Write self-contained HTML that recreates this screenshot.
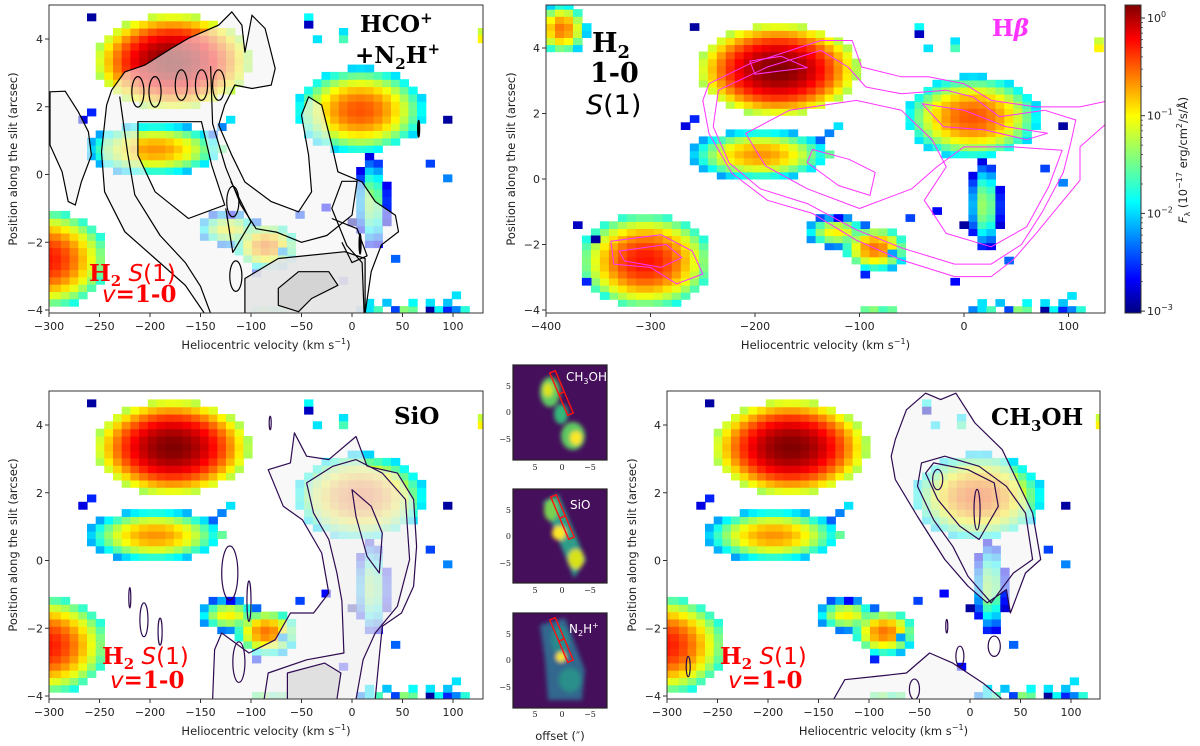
<!DOCTYPE html>
<html><head><meta charset="utf-8"><style>
html,body{margin:0;padding:0;background:#fff}
body{position:relative;width:1200px;height:746px;overflow:hidden}
svg{display:block}
.tk{font-size:11px;fill:#222;font-family:"DejaVu Sans","Liberation Sans",sans-serif}
.lab{font-size:11.5px;fill:#222;font-family:"DejaVu Sans","Liberation Sans",sans-serif}
.srf{font-family:"DejaVu Serif","Liberation Serif",serif;font-weight:bold}
.sns{font-family:"DejaVu Sans","Liberation Sans",sans-serif;font-weight:normal}
.tt{font-family:"DejaVu Serif","Liberation Serif",serif;font-size:8px;fill:#222}
</style></head><body>
<svg id="fig" width="1200" height="746" viewBox="0 0 1200 746" xmlns="http://www.w3.org/2000/svg">
<defs>
<filter id="bl" x="-50%" y="-50%" width="200%" height="200%"><feGaussianBlur stdDeviation="2.2"/></filter>
<linearGradient id="jet" x1="0" y1="1" x2="0" y2="0">
<stop offset="0" stop-color="#00007f"/><stop offset="0.11" stop-color="#0000ff"/><stop offset="0.36" stop-color="#00ffff"/><stop offset="0.5" stop-color="#7fff7f"/><stop offset="0.64" stop-color="#ffff00"/><stop offset="0.89" stop-color="#ff0000"/><stop offset="1" stop-color="#7f0000"/>
</linearGradient>
<clipPath id="c1"><rect x="49" y="5" width="434" height="308"/></clipPath>
<clipPath id="c2"><rect x="546" y="5" width="559" height="308"/></clipPath>
<clipPath id="c3"><rect x="49" y="391" width="434" height="308"/></clipPath>
<clipPath id="c4"><rect x="667" y="391" width="433" height="308"/></clipPath>
<clipPath id="t1"><rect x="513" y="365" width="94" height="95"/></clipPath>
<clipPath id="t2"><rect x="513" y="489" width="94" height="94"/></clipPath>
<clipPath id="t3"><rect x="513" y="613" width="94" height="95"/></clipPath>
</defs>
</svg>
<script>
// ---- H2 heatmap data (clumps: velocity centre, position centre, radius v, radius p, log10 peak) ----
const clumpV  = [-178, -305, -195, -122, -85,   8,   20, -385];
const clumpP  = [3.35, -2.5, 0.75, -1.6, -2.1,  1.9, -0.8,  4.6];
const clumpRV = [  76,   64,  68,   32,  32,   64,   16,   25];
const clumpRP = [ 1.4, 1.45, 0.78, 0.5, 0.7,  1.25,  1.4,  0.8];
const clumpPk = [0.15, -0.3, -0.7, -1.0, -0.6, -0.5, -1.3, -0.6];
const speckV = [-255,-40,-45,-33,-262,-268,-118,-130,-10,-5,125,125,92,75,95,-130,-140,-120,-92,-70,-48,-28,-370,-355,-345,-362,-8,-2,40,
  5,14,22,40,50,58,75,84,92,100,108,14,31,58,75,92,101,-95,-86,-78,-70];
const speckP = [4.75,4.75,4.35,4.1,1.9,1.55,1.7,1.5,4.3,3.9,4.2,3.9,1.65,0.35,-0.05,0.85,1.1,-1.15,-2.9,-2.2,-1.25,-1.0,-1.5,-1.9,-3.5,-3.1,-3.1,-1.4,-2.5,
  -3.95,-3.95,-3.95,-3.95,-3.95,-3.95,-3.95,-3.95,-3.95,-3.95,-3.95,-3.75,-3.75,-3.75,-3.75,-3.75,-3.55,-3.95,-3.95,-3.95,-3.95];
const speckL = [-2.9,-1.8,-2.8,-1.9,-2.5,-2.7,-1.9,-2.2,-1.9,-1.6,-1.2,-1.0,-2.9,-2.4,-2.2,-1.5,-2.3,-2.6,-2.5,-2.1,-2.4,-2.6,-2.8,-2.9,-1.7,-2.5,-2.6,-2.9,-2.3,
  -2.2,-1.9,-1.6,-2.4,-1.4,-1.5,-2.9,-1.8,-2.5,-2.2,-1.7,-1.9,-2.0,-1.8,-1.9,-2.0,-1.9,-1.5,-1.4,-1.6,-1.5];
const gridDV = 8.6, gridDP = 0.216;
const cbTicks = [0,-1,-2,-3];
const xTicks1 = [-300,-250,-200,-150,-100,-50,0,50,100];
const xTicks2 = [-400,-300,-200,-100,0,100];
const yTicks = [-4,-2,0,2,4];
const hcoFill1 = [[[-299,2.44],[-284,2.46],[-271,1.85],[-261,1.26],[-258,0.57],[-268,-0.22],[-274,-0.9],[-281,-0.8],[-287,0.08],[-299,0.87]],
 [[-238,2.49],[-225,3.03],[-205,3.23],[-179,3.72],[-162,4.02],[-132,4.41],[-119,4.8],[-109,4.41],[-106,3.6],[-99,4.7],[-86,4.31],[-76,3.13],[-80,2.64],[-99,2.54],[-116,2.64],[-126,2.05],[-132,1.46],[-119,0.57],[-106,-0.22],[-80,-0.8],[-53,-1.1],[-40,-0.51],[-43,0.57],[-50,1.75],[-43,2.29],[-30,2.05],[-20,0.87],[-14,0.08],[10,-0.22],[23,-0.8],[43,-1.2],[46,-1.69],[29,-2.08],[19,-2.87],[13,-4.1],[-146,-4.1],[-165,-3.27],[-195,-2.48],[-225,-1.69],[-245,-0.51],[-248,0.67],[-243,2.05]]];
const hcoHole1 = [[-212,1.56],[-149,1.56],[-139,0.28],[-126,-0.9],[-162,-1.3],[-195,-0.51],[-212,0.57]];
const hcoMid1 = [[-106,-3.07],[-73,-2.48],[-7,-2.28],[13,-2.48],[13,-4.1],[-106,-4.1]];
const hcoDark1 = [[-73,-3.36],[-53,-2.87],[-23,-2.87],[-14,-3.27],[-40,-3.66],[-53,-4.05],[-73,-3.86]];
const hcoLine1 = [[[-230,2.3],[-222,0.6],[-215,-0.6],[-190,-1.8],[-165,-2.6],[-150,-3.3],[-140,-4.1]],[[-140,3.2],[-138,1.5],[-125,0.2],[-110,-0.9],[-95,-1.6],[-75,-1.7],[-50,-2.0],[-25,-1.8],[0,-1.2],[5,-0.2],[-10,-0.2],[-20,-1.0],[-5,-2.1],[10,-2.6],[12,-4.1]],[[-120,-0.2],[-100,-1.4],[-118,-2.3],[-125,-1.0]],[[-20,-1.3],[5,-1.6],[15,-2.4],[0,-2.6],[-10,-2.0]]];
const hcoEll1 = [[-212,2.44],[-195,2.44],[-169,2.64],[-149,2.64],[-132,2.64],[-115,-3.0],[-118,-0.8]];
const sioOut = [[-83,2.68],[-61,2.88],[-57,3.77],[-45,3.08],[-23,2.98],[4,3.66],[15,2.78],[45,2.58],[61,1.8],[64,0.42],[61,-0.76],[49,-1.55],[30,-1.94],[27,-2.83],[23,-4.1],[-138,-4.1],[-136,-2.63],[-129,-2.14],[-102,-2.73],[-76,-2.34],[-61,-1.55],[-38,-1.55],[-23,-0.96],[-30,0.22],[-49,1.2],[-68,1.6]];
const sioIn = [[-45,2.29],[-19,2.78],[4,2.98],[30,2.58],[53,1.8],[57,0.03],[45,-1.35],[23,-2.14],[11,-2.93],[4,-4.1],[-87,-4.1],[-83,-3.32],[-45,-2.93],[-8,-2.73],[-10,-1.2],[-15,-0.37],[-23,0.62],[-38,1.4]];
const sioIn2 = [[0,2.09],[19,1.6],[30,0.81],[27,-0.37],[15,0.12],[4,1.3]];
const sioDark = [[-64,-3.32],[-27,-3.03],[-11,-3.32],[-15,-4.1],[-64,-4.1]];
const sioEll = [[-121,-0.37,8,0.8],[-206,-1.75,4,0.5],[-102,-1.2,2,0.6],[-190,-2.1,2,0.4],[-220,-1.1,1,0.3],[-81,4.06,1,0.2],[-112,-3.0,6,0.6]];
const chOut = [[-74,3.57],[-63,4.45],[-44,4.94],[-29,4.75],[-14,4.94],[5,4.06],[32,3.27],[43,2.58],[62,1.4],[70,0.03],[55,-0.37],[40,-1.55],[36,-0.86],[17,-1.25],[-2,-0.76],[-25,0.03],[-52,1.3],[-74,2.39],[-78,3.08]];
const chIn = [[-48,2.88],[-25,3.08],[9,2.78],[36,2.19],[55,1.4],[62,0.03],[43,-0.37],[21,-1.25],[-2,-0.47],[-17,0.42],[-36,1.2],[-52,2.19]];
const chIn2 = [[-36,2.88],[-2,2.68],[24,2.29],[28,1.6],[9,0.62],[-10,1.01],[-32,1.8],[-44,2.58]];
const chBot = [[-135,-4.1],[-124,-3.52],[-93,-3.42],[-63,-3.32],[-40,-2.73],[-17,-3.03],[13,-3.62],[32,-4.1]];
const chEll = [[-32,2.39,5,0.3],[7,1.5,3,0.6],[24,-2.53,6,0.3],[-10,-2.83,4,0.3],[-23,-1.94,1,0.2],[-279,-3.13,2,0.3],[-55,-3.8,5,0.3]];
const hbOut = [[-244,2.91],[-205,3.52],[-137,4.23],[-107,4.23],[-98,3.42],[-60,3.12],[-34,3.12],[0,2.91],[26,2.4],[69,2.2],[111,2.2],[140,2.4],[140,1.8],[111,0.98],[111,-0.04],[90,-0.85],[69,-1.66],[47,-2.47],[26,-2.98],[-9,-2.98],[-60,-2.47],[-103,-1.87],[-145,-1.05],[-188,-0.65],[-222,0.17],[-244,1.39],[-250,2.4]];
const hbMid = [[-235,2.71],[-188,3.42],[-137,3.93],[-111,3.42],[-94,2.81],[-60,2.6],[-17,2.71],[9,2.5],[34,1.9],[77,2.1],[107,1.8],[102,1.08],[95,0.2],[75,-1.0],[55,-2.0],[26,-2.6],[-9,-2.6],[-60,-2.1],[-103,-1.55],[-150,-0.75],[-195,-0.3],[-225,0.5],[-240,1.6]];
const hbIn = [[-209,1.39],[-167,2.1],[-103,2.4],[-60,2.1],[-30,1.18],[-17,0.37],[-38,-0.65],[-17,-1.66],[26,-2.07],[60,-1.46],[81,-0.24],[94,0.88],[47,0.98],[0,0.98],[-26,0.37],[-50,-0.3],[-100,-0.9],[-150,-0.3],[-190,0.4]];
const hbCore = [[-145,0.9],[-110,0.6],[-85,0.2],[-90,-0.5],[-120,-0.2],[-150,0.5]];
const hbTop = [[-205,3.6],[-175,3.75],[-150,3.4],[-175,3.3],[-200,3.2]];
const hbB = [[-338,-1.9],[-290,-1.7],[-260,-2.2],[-250,-2.9],[-275,-3.2],[-300,-2.7],[-335,-2.6]];
const hbB2 = [[-330,-2.2],[-285,-2.0],[-270,-2.4],[-290,-2.7],[-325,-2.5]];
const hbR = [[-40,2.3],[0,2.1],[40,1.6],[80,1.4],[60,1.2],[20,1.5],[-20,1.6]];

const NS="http://www.w3.org/2000/svg";
const svg=document.getElementById('fig');
function mk(tag,attrs,parent){const e=document.createElementNS(NS,tag);for(const k in attrs)e.setAttribute(k,attrs[k]);(parent||svg).appendChild(e);return e;}
function jet(t){t=Math.max(0,Math.min(1,t));const c=x=>Math.round(255*Math.max(0,Math.min(1,x)));return `rgb(${c(1.5-Math.abs(4*t-3))},${c(1.5-Math.abs(4*t-2))},${c(1.5-Math.abs(4*t-1))})`;}
function val(v,p){let best=-99;for(let i=0;i<clumpV.length;i++){const r2=((v-clumpV[i])/clumpRV[i])**2+((p-clumpP[i])/clumpRP[i])**2;if(r2<=1){const L=clumpPk[i]-1.45*r2;if(L>best)best=L;}}return best;}

const panels=[
 {id:'p1',x0:352,sx:1.01,y0:174.5,sy:33.875,L:49,R:483,T:5,B:313,clip:'c1',xt:xTicks1,ylx:13},
 {id:'p2',x0:964,sx:1.045,y0:179,sy:32.75,L:546,R:1105,T:5,B:313,clip:'c2',xt:xTicks2,ylx:511},
 {id:'p3',x0:352,sx:1.01,y0:560.5,sy:33.875,L:49,R:483,T:391,B:699,clip:'c3',xt:xTicks1,ylx:13},
 {id:'p4',x0:970,sx:1.01,y0:560.5,sy:33.875,L:667,R:1100,T:391,B:699,clip:'c4',xt:xTicks1,ylx:632}];

function pathOf(P,pts,close){return pts.map((q,i)=>(i?'L':'M')+(P.x0+q[0]*P.sx).toFixed(1)+' '+(P.y0-q[1]*P.sy).toFixed(1)).join(' ')+(close?' Z':'');}

panels.forEach((P,pi)=>{
  const g=mk('g',{'clip-path':`url(#${P.clip})`});
  
  
  const X=v=>P.x0+v*P.sx, Y=p=>P.y0-p*P.sy;
  const hm=mk('g',{},g);
  
  
  const cw=gridDV*P.sx, ch=gridDP*P.sy;
  for(let v=-400;v<140;v+=gridDV){for(let p=-4.1;p<5.4;p+=gridDP){
    const L=val(v+gridDV/2,p+gridDP/2); if(L<-2.9)continue;
    const r=mk('rect',{x:X(v).toFixed(1),y:(Y(p)-ch).toFixed(1),width:(cw+0.6).toFixed(1),height:(ch+0.6).toFixed(1),fill:jet((L+3)/3.15)},hm);
    
    
  }}
  for(let i=0;i<speckV.length;i++){
    const v=Math.floor((speckV[i]+400)/gridDV)*gridDV-400, p=Math.floor((speckP[i]+4.1)/gridDP)*gridDP-4.1;
    const r=mk('rect',{x:X(v).toFixed(1),y:(Y(p)-ch).toFixed(1),width:(cw+0.6).toFixed(1),height:(ch+0.6).toFixed(1),fill:jet((speckL[i]+3)/3.15)},hm);
    
    
  }
  const cg=mk('g',{},g);
  
  
  const ell=(e,col,fill)=>{const el=mk('ellipse',{cx:X(e[0]),cy:Y(e[1]),rx:(e[2]||5)*P.sx,ry:(e[3]||0.35)*P.sy,fill:fill||'none',stroke:col,'stroke-width':1.2},cg);};
  const poly=(pts,fill,stroke,op,close=true,sw=1.2)=>{const el=mk('path',{d:pathOf(P,pts,close),fill:fill,'fill-opacity':op,stroke:stroke,'stroke-width':sw,'stroke-linejoin':'round'},cg);return el;};
  if(pi===0){
    const d=hcoFill1.map(s=>pathOf(P,s,true)).join(' ')+' '+pathOf(P,hcoHole1,true);
    const el=mk('path',{d:d,'fill-rule':'evenodd',fill:'#f4f4f4','fill-opacity':0.6,stroke:'#000','stroke-width':1.2},cg);
    
    
    poly(hcoMid1,'#e4e4e4','#000',0.85);
    poly(hcoDark1,'#d2d2d2','#000',0.9);
    hcoLine1.forEach(s=>poly(s,'none','#000',0,false));
    hcoEll1.forEach(e=>ell([e[0],e[1],6,0.45],'#000'));
    ell([66,1.35,1,0.25],'#000','#000');ell([8,-2.05,1,0.3],'#000','#000');
  } else if(pi===1){
    const c='#ff33ff';
    [hbOut,hbMid,hbIn,hbCore,hbTop,hbB,hbB2,hbR].forEach(s=>poly(s,'none',c,0,true,1));
  } else if(pi===2){
    const c='#2d0a50';
    poly(sioOut,'#f4f4f4',c,0.6);poly(sioIn,'#eeeeee',c,0.4);poly(sioIn2,'none',c,0);poly(sioDark,'#dedede',c,0.9);
    sioEll.forEach(e=>ell(e,c));
  } else {
    const c='#2d0a50';
    poly(chOut,'#f4f4f4',c,0.6);poly(chIn,'none',c,0);poly(chIn2,'none',c,0);poly(chBot,'#f4f4f4',c,0.6,false);
    chEll.forEach(e=>ell(e,c));
  }
  const fr=mk('rect',{x:P.L,y:P.T,width:P.R-P.L,height:P.B-P.T,fill:'none',stroke:'#333','stroke-width':1});
  
  
  P.xt.forEach(t=>{const x=X(t);mk('line',{x1:x,x2:x,y1:P.B,y2:P.B+4,stroke:'#333'});
    const tx=mk('text',{x:x,y:P.B+17,'text-anchor':'middle',class:'tk'});tx.textContent=String(t).replace('-','−');
    
    });
  yTicks.forEach(t=>{const y=Y(t);mk('line',{x1:P.L-4,x2:P.L,y1:y,y2:y,stroke:'#333'});
    const tx=mk('text',{x:P.L-6,y:y+4,'text-anchor':'end',class:'tk'});tx.textContent=String(t).replace('-','−');
    
    });
  const xl=mk('text',{x:(P.L+P.R)/2,y:P.B+36,'text-anchor':'middle',class:'lab'});
  xl.innerHTML='Heliocentric velocity (km s<tspan dy="-5" font-size="8">−1</tspan><tspan dy="5">)</tspan>';
  
  
  const yl=mk('text',{x:0,y:0,'text-anchor':'middle',class:'lab',transform:`translate(${P.ylx+4},${(P.T+P.B)/2}) rotate(-90)`});
  yl.textContent='Position along the slit (arcsec)';
  
  
});

const cb=mk('rect',{x:1125,y:5,width:16,height:308,fill:'url(#jet)',stroke:'#333','stroke-width':1});


cbTicks.forEach(t=>{const y=18-t*97.7;mk('line',{x1:1141,x2:1145,y1:y,y2:y,stroke:'#333'});
  for(let m=2;m<10;m++){const ym=y-Math.log10(m)*97.7;if(ym>5)mk('line',{x1:1141,x2:1143,y1:ym,y2:ym,stroke:'#333','stroke-width':0.7});}
  const tx=mk('text',{x:1147,y:y+4,class:'tk'});tx.innerHTML=`10<tspan dy="-5" font-size="8">${String(t).replace('-','−')}</tspan>`;
  
  });
const cbl=mk('text',{x:0,y:0,'text-anchor':'middle',class:'lab',transform:'translate(1187,160) rotate(-90)'});
cbl.innerHTML='<tspan font-style="italic">F</tspan><tspan font-size="8" dy="3">λ</tspan><tspan dy="-3"> (10</tspan><tspan dy="-5" font-size="8">−17</tspan><tspan dy="5"> erg/cm</tspan><tspan dy="-5" font-size="8">2</tspan><tspan dy="5">/s/Å)</tspan>';


</script>
<svg style="position:absolute;left:0;top:0" width="1200" height="746" viewBox="0 0 1200 746" xmlns="http://www.w3.org/2000/svg">
<g font-size="23" fill="#000">
 <text class="srf" x="360" y="32">HCO<tspan dy="-9" font-size="15">+</tspan></text>
 <text class="srf" x="355" y="63">+N<tspan dy="6" font-size="15">2</tspan><tspan dy="-6">H</tspan><tspan dy="-9" font-size="15">+</tspan></text>
 <text class="srf" x="394" y="424">SiO</text>
 <text class="srf" x="991" y="425">CH<tspan dy="6" font-size="15">3</tspan><tspan dy="-6">OH</tspan></text>
 <text class="srf" x="592" y="52" font-size="27">H<tspan dy="6" font-size="18">2</tspan></text>
 <text class="srf" x="590" y="82" font-size="27">1-0</text>
 <text class="sns" x="586" y="114" font-size="27"><tspan font-style="italic">S</tspan>(1)</text>
 <text class="srf" x="992" y="36" fill="#ff33ff">H<tspan font-style="italic">β</tspan></text>
</g>
<g fill="#ff0000" font-size="23">
 <text class="srf" x="89" y="281">H<tspan dy="5" font-size="15">2</tspan><tspan dy="-5" class="sns"> <tspan font-style="italic">S</tspan>(1)</tspan></text>
 <text class="srf" x="102" y="302"><tspan font-style="italic" class="sns">v</tspan>=1-0</text>
 <text class="srf" x="102" y="664">H<tspan dy="5" font-size="15">2</tspan><tspan dy="-5" class="sns"> <tspan font-style="italic">S</tspan>(1)</tspan></text>
 <text class="srf" x="110" y="688"><tspan font-style="italic" class="sns">v</tspan>=1-0</text>
 <text class="srf" x="720" y="664">H<tspan dy="5" font-size="15">2</tspan><tspan dy="-5" class="sns"> <tspan font-style="italic">S</tspan>(1)</tspan></text>
 <text class="srf" x="728" y="688"><tspan font-style="italic" class="sns">v</tspan>=1-0</text>
</g>
<g>
 <rect x="513" y="365" width="94" height="95" fill="#450f5c"/>
 <g clip-path="url(#t1)" filter="url(#bl)">
  <ellipse cx="550" cy="392" rx="10" ry="15" fill="#5ec962"/>
  <ellipse cx="548" cy="390" rx="5" ry="7" fill="#dde318"/>
  <ellipse cx="561" cy="414" rx="7" ry="10" fill="#35b779"/>
  <ellipse cx="573" cy="436" rx="12" ry="14" fill="#5ec962"/>
  <ellipse cx="576" cy="438" rx="6" ry="7" fill="#fde725"/>
 </g>
 <rect x="513" y="365" width="94" height="95" fill="none" stroke="#222" stroke-width="1.2"/>
 <text class="lab" x="566" y="381" style="fill:#fff;font-size:12px">CH<tspan dy="3" font-size="8">3</tspan><tspan dy="-3">OH</tspan></text>
</g>
<g>
 <rect x="513" y="489" width="94" height="94" fill="#450f5c"/>
 <g clip-path="url(#t2)" filter="url(#bl)">
  <path d="M543 502 L558 494 L586 560 L574 578 Z" fill="#2f9e89"/>
  <ellipse cx="551" cy="510" rx="7" ry="11" fill="#7ad151"/>
  <ellipse cx="559" cy="533" rx="7" ry="7" fill="#fde725"/>
  <ellipse cx="576" cy="559" rx="8" ry="10" fill="#d8e219"/>
 </g>
 <rect x="513" y="489" width="94" height="94" fill="none" stroke="#222" stroke-width="1.2"/>
 <text class="lab" x="570" y="509" style="fill:#fff;font-size:12px">SiO</text>
</g>
<g>
 <rect x="513" y="613" width="94" height="95" fill="#450f5c"/>
 <g clip-path="url(#t3)" filter="url(#bl)">
  <path d="M540 625 L565 618 L585 670 L582 700 L548 700 L545 660 Z" fill="#31688e"/>
  <ellipse cx="560" cy="640" rx="9" ry="14" fill="#2a8a8c"/>
  <ellipse cx="561" cy="657" rx="5" ry="5" fill="#fde725"/>
  <ellipse cx="570" cy="680" rx="11" ry="12" fill="#2c8f8a"/>
 </g>
 <rect x="513" y="613" width="94" height="95" fill="none" stroke="#222" stroke-width="1.2"/>
 <text class="lab" x="569" y="633" style="fill:#fff;font-size:12px">N<tspan dy="3" font-size="8">2</tspan><tspan dy="-3">H</tspan><tspan dy="-5" font-size="8">+</tspan></text>
</g>
<g fill="none" stroke="#ff1010" stroke-width="1.4">
 <g transform="translate(561.5,393) rotate(-23)"><rect x="-3" y="-23" width="6" height="46"/><line x1="-3" x2="3" y1="0" y2="0"/></g>
 <g transform="translate(562.5,517) rotate(-23)"><rect x="-3" y="-23" width="6" height="46"/><line x1="-3" x2="3" y1="0" y2="0"/></g>
 <g transform="translate(561.5,640) rotate(-23)"><rect x="-3" y="-23" width="6" height="46"/><line x1="-3" x2="3" y1="0" y2="0"/></g>
</g>
<g>
 <text class="tt" x="511" y="389" text-anchor="end">5</text><text class="tt" x="511" y="415" text-anchor="end">0</text><text class="tt" x="511" y="442" text-anchor="end">−5</text>
 <text class="tt" x="511" y="513" text-anchor="end">5</text><text class="tt" x="511" y="539" text-anchor="end">0</text><text class="tt" x="511" y="566" text-anchor="end">−5</text>
 <text class="tt" x="511" y="637" text-anchor="end">5</text><text class="tt" x="511" y="663" text-anchor="end">0</text><text class="tt" x="511" y="690" text-anchor="end">−5</text>
 <text class="tt" x="535" y="470" text-anchor="middle">5</text><text class="tt" x="562" y="470" text-anchor="middle">0</text><text class="tt" x="590" y="470" text-anchor="middle">−5</text>
 <text class="tt" x="535" y="593" text-anchor="middle">5</text><text class="tt" x="562" y="593" text-anchor="middle">0</text><text class="tt" x="590" y="593" text-anchor="middle">−5</text>
 <text class="tt" x="535" y="717" text-anchor="middle">5</text><text class="tt" x="562" y="717" text-anchor="middle">0</text><text class="tt" x="590" y="717" text-anchor="middle">−5</text>
</g>
<text class="lab" x="560" y="740" text-anchor="middle">offset (″)</text>
</svg>
</body></html>
